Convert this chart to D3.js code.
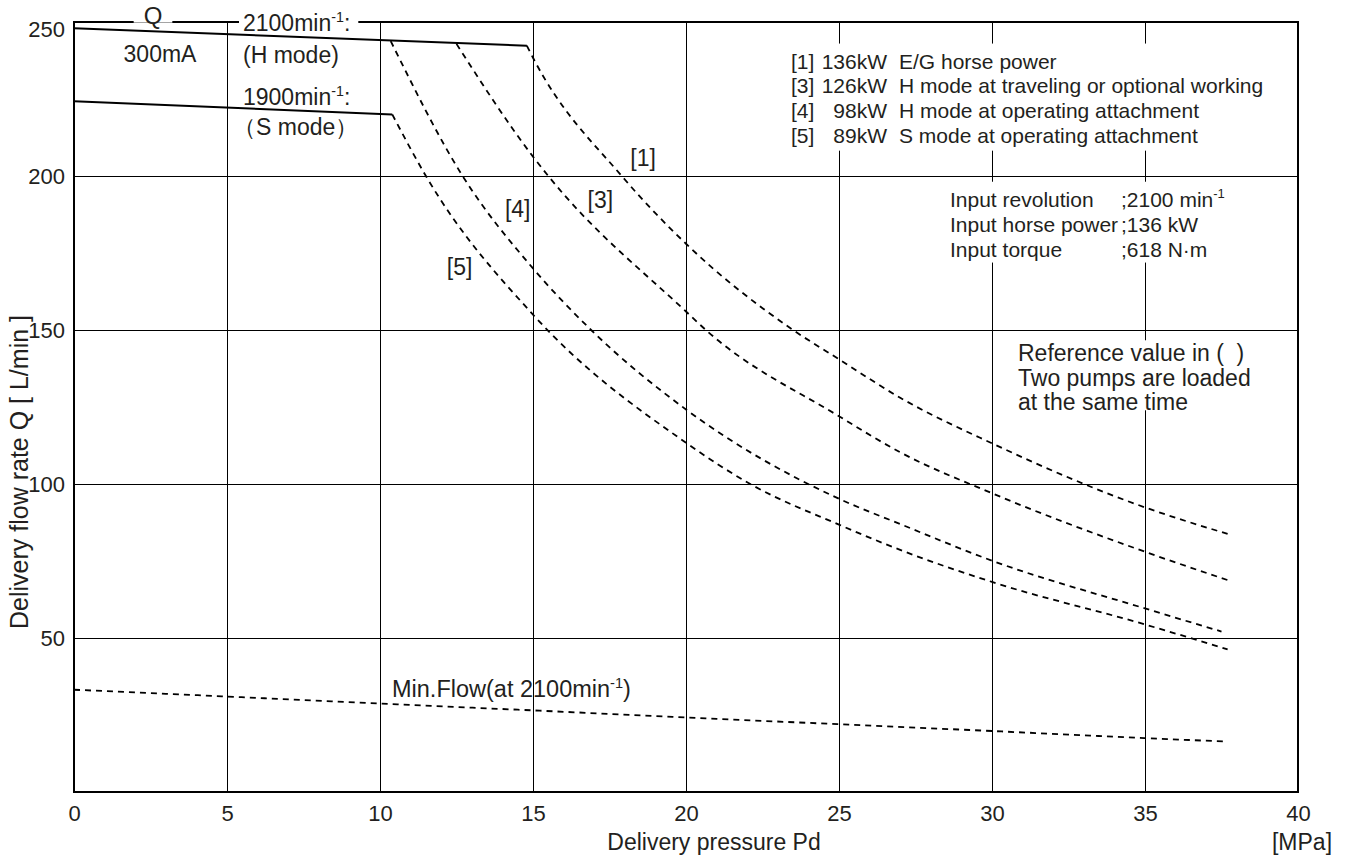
<!DOCTYPE html>
<html>
<head>
<meta charset="utf-8">
<script src="https://cdn.jsdelivr.net/npm/d3@7"></script>
<style>
  body { margin: 0; background: #fff; }
  svg { display: block; font-family: "Liberation Sans", Arial, sans-serif; }
  text { fill: #231f20; }
  .grid line { stroke: #000; stroke-width: 1.3; shape-rendering: crispEdges; }
  .grid .domain { display: none; }
  .ticks .domain { display: none; }
  .frame { fill: none; stroke: #000; stroke-width: 1.5; shape-rendering: crispEdges; }
  .solid { fill: none; stroke: #000; stroke-width: 2; }
  .dash { fill: none; stroke: #000; stroke-width: 1.8; stroke-dasharray: 6 5; }
</style>
</head>
<body>
<svg id="chart" width="1348" height="857"></svg>
<script>
// tick values
const pressureTicks = [0, 5, 10, 15, 20, 25, 30, 35, 40];
const flowTicks = [50, 100, 150, 200, 250];

// 300mA max flow lines (solid)
const hModeP = [0, 14.8];
const hModeQ = [248, 242.3];
const sModeP = [0, 10.4];
const sModeQ = [224.3, 220];

// constant horse power curves (dashed)
const curve1P = [14.8, 15, 17.9, 20, 23.5, 25, 27, 30, 35, 37.7];
const curve1Q = [242.3, 238.4, 200, 178, 150, 140.5, 128, 113.2, 92.4, 83.8];
const curve3P = [12.5, 15, 15.5, 20, 20.65, 25, 27, 30, 35, 37.7];
const curve3Q = [242.9, 206.3, 200, 156, 150, 122, 110.3, 97, 78, 68.8];
const curve4P = [10.35, 12.7, 15, 16.9, 20, 25, 27, 30, 35, 37.5];
const curve4Q = [243.8, 200, 170, 150, 124.2, 95.2, 87, 75.1, 59.6, 52.1];
const curve5P = [10.4, 11.5, 15, 20, 22.1, 25, 27, 30, 35, 37.7];
const curve5Q = [220, 200, 155, 113.4, 100, 86.8, 78.6, 68.2, 54.4, 46.3];

// min flow
const minFlowP = [0, 5, 10, 15, 20, 25, 30, 35, 37.6];
const minFlowQ = [33.2, 31, 28.7, 26.5, 24.2, 22, 19.8, 17.5, 16.4];

// legend / notes
const legendIds = ["[1]", "[3]", "[4]", "[5]"];
const legendKW = ["136kW", "126kW", "98kW", "89kW"];
const legendDesc = ["E/G horse power", "H mode at traveling or optional working",
                    "H mode at operating attachment", "S mode at operating attachment"];
const inputNames = ["Input revolution", "Input horse power", "Input torque"];
const inputValues = [";2100 min^-1", ";136 kW", ";618 N\u00b7m"];
const noteLines = ["Reference value in (\u00a0\u00a0)", "Two pumps are loaded", "at the same time"];

const margin = {top: 22, right: 50, bottom: 65, left: 74};
const width = 1224, height = 770;

const svg = d3.select("#chart");
const chart = svg.append("g").attr("transform", `translate(${margin.left},${margin.top})`);

const x = d3.scaleLinear().domain([0, 40]).range([0, width]);
const y = d3.scaleLinear().domain([0, 250]).range([height, 0]);

const gGrid = chart.append("g");
const gMask = chart.append("g");
const gLines = chart.append("g");
const gText = chart.append("g");

// grid
gGrid.append("g").attr("class", "grid")
  .attr("transform", `translate(0,${height})`)
  .call(d3.axisBottom(x).tickValues(pressureTicks.slice(1, -1)).tickSize(-height).tickFormat(""));
gGrid.append("g").attr("class", "grid")
  .call(d3.axisLeft(y).tickValues(flowTicks.slice(0, -1)).tickSize(-width).tickFormat(""));
gGrid.append("rect").attr("class", "frame").attr("width", width).attr("height", height);

// tick labels
const xAx = gGrid.append("g").attr("class", "ticks")
  .attr("transform", `translate(0,${height})`)
  .call(d3.axisBottom(x).tickValues(pressureTicks).tickSize(0).tickPadding(13));
xAx.selectAll("text").attr("font-size", 22).attr("font-family", "Liberation Sans").attr("fill", "#231f20");

const yAx = gGrid.append("g").attr("class", "ticks")
  .call(d3.axisLeft(y).tickValues(flowTicks).tickSize(0).tickPadding(9));
yAx.selectAll("text").attr("font-size", 22).attr("font-family", "Liberation Sans").attr("fill", "#231f20")
  .attr("dy", d => d === 250 ? "0.65em" : "0.36em");

// text helper with ^superscripts
function label(parent, px, py, str, size, anchor) {
  const t = parent.append("text")
    .attr("x", px).attr("y", py + size * 0.36)
    .attr("font-size", size)
    .attr("text-anchor", anchor || "start");
  let back = 0;
  str.split(/(\^-?\d+)/).forEach(p => {
    if (!p) return;
    if (p[0] === "^") {
      t.append("tspan").attr("font-size", size * 0.62).attr("dy", -size * 0.42).text(p.slice(1));
      back = size * 0.42;
    } else {
      const s = t.append("tspan").text(p);
      if (back) { s.attr("dy", back); back = 0; }
    }
  });
  return t;
}

function maskBox(nodes, padL, padR, padTop, padBottom) {
  let x0 = Infinity, y0 = Infinity, x1 = -Infinity, y1 = -Infinity;
  nodes.forEach(n => {
    const b = n.getBBox();
    x0 = Math.min(x0, b.x); y0 = Math.min(y0, b.y);
    x1 = Math.max(x1, b.x + b.width); y1 = Math.max(y1, b.y + b.height);
  });
  gMask.append("rect").attr("fill", "#fff")
    .attr("x", x0 - padL).attr("y", y0 - padTop)
    .attr("width", x1 - x0 + padL + padR).attr("height", y1 - y0 + padTop + padBottom);
}

// lines
const zip = (a, b) => a.map((v, i) => [v, b[i]]);
const straight = d3.line().x(d => x(d[0])).y(d => y(d[1]));
const smooth = d3.line().x(d => x(d[0])).y(d => y(d[1])).curve(d3.curveMonotoneX);

gLines.append("path").attr("class", "solid").attr("d", straight(zip(hModeP, hModeQ)));
gLines.append("path").attr("class", "solid").attr("d", straight(zip(sModeP, sModeQ)));
[[curve1P, curve1Q], [curve3P, curve3Q], [curve4P, curve4Q], [curve5P, curve5Q]].forEach(([p, q]) => {
  gLines.append("path").attr("class", "dash").attr("d", smooth(zip(p, q)));
});
gLines.append("path").attr("class", "dash").attr("d", smooth(zip(minFlowP, minFlowQ)));

// header annotations
const oy = -margin.top, ox = -margin.left;
const q = label(gText, 153 + ox, 15 + oy, "Q", 24, "middle");
maskBox([q.node()], 10, 10, -6, -6);
const rpmH = label(gText, 243 + ox, 23 + oy, "2100min^-1:", 23);
maskBox([rpmH.node()], 4, 8, -6, -6);
label(gText, 160 + ox, 54 + oy, "300mA", 23, "middle");
label(gText, 243 + ox, 55 + oy, "(H mode)", 23);
label(gText, 243 + ox, 97 + oy, "1900min^-1:", 23);
label(gText, 233 + ox, 127 + oy, "\uff08S mode\uff09", 23);

// curve labels
label(gText, x(18.6), y(205.8), legendIds[0], 23, "middle");
label(gText, x(17.2), y(192.2), legendIds[1], 23, "middle");
label(gText, x(14.5), y(189.5), legendIds[2], 23, "middle");
label(gText, x(12.6), y(170.7), legendIds[3], 23, "middle");

// legend box
const legNodes = [];
legendIds.forEach((id, i) => {
  const ly = 61 + i * 24.7 + oy;
  legNodes.push(label(gText, 791 + ox, ly, id, 21).node());
  legNodes.push(label(gText, 887 + ox, ly, legendKW[i], 21, "end").node());
  legNodes.push(label(gText, 899 + ox, ly, legendDesc[i], 21).node());
});
maskBox(legNodes, 8, 8, 6, 4);

// input spec box
const inNodes = [];
inputNames.forEach((n, i) => {
  const ly = 199 + i * 25 + oy;
  inNodes.push(label(gText, 950 + ox, ly, n, 21).node());
  inNodes.push(label(gText, 1121 + ox, ly, inputValues[i], 21).node());
});
maskBox(inNodes, 6, 6, 4, 2);

// note box
const noteNodes = noteLines.map((s, i) => label(gText, 1018 + ox, 353 + i * 24.5 + oy, s, 23).node());
maskBox(noteNodes, 4, 4, 0, -5);

// min flow label
label(gText, 392 + ox, 689 + oy, "Min.Flow(at 2100min^-1)", 23.5);

// axis titles
label(gText, x(20) + 28, height + 50, "Delivery pressure Pd", 23, "middle");
label(gText, x(40) + 4, height + 50, "[MPa]", 23, "middle");
const yl = gText.append("g").attr("transform", `translate(${19 + ox},${472 + oy}) rotate(-90)`);
label(yl, 0, 0, "Delivery flow rate Q [ L/min ]", 25, "middle");
</script>
</body>
</html>
